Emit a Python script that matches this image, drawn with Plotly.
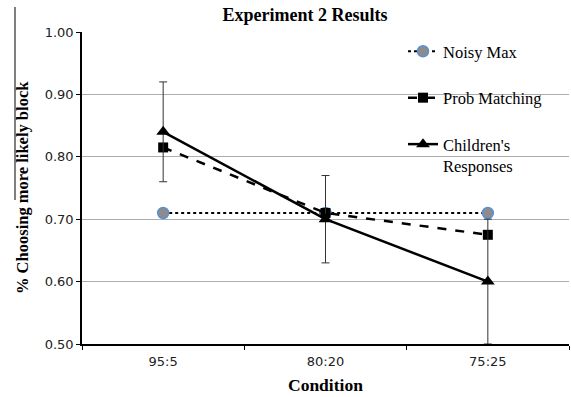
import plotly.graph_objects as go

conditions = ["95:5", "80:20", "75:25"]
noisy_max = [0.71, 0.71, 0.71]
prob_matching = [0.815, 0.71, 0.675]
children = [0.84, 0.70, 0.60]
children_err = [0.08, 0.07, 0.10]
y_ticks = [0.5, 0.6, 0.7, 0.8, 0.9, 1.0]

serif = "Liberation Serif"
sans = "DejaVu Sans"

fig = go.Figure()
fig.add_trace(go.Scatter(
    x=conditions, y=noisy_max, name="Noisy Max", mode="lines+markers",
    line=dict(color="black", width=2, dash="dot"),
    marker=dict(symbol="circle", size=11, color="#8c8c8c",
                line=dict(color="#5b8fd6", width=1.5)),
    legendgroup="a"))
fig.add_trace(go.Scatter(
    x=conditions, y=prob_matching, name="Prob Matching", mode="lines+markers",
    line=dict(color="black", width=2.5, dash="dash"),
    marker=dict(symbol="square", size=10, color="black"),
    legendgroup="b"))
fig.add_trace(go.Scatter(
    x=conditions, y=children, name="Children's<br>Responses", mode="lines+markers",
    line=dict(color="black", width=2.5),
    marker=dict(symbol="triangle-up", size=12, color="black"),
    error_y=dict(type="data", array=children_err, visible=True,
                 color="#333333", thickness=1, width=4),
    legendgroup="c"))

L, R, T, B = 82, 2, 32, 53
W, H = 571, 397
pw = W - L - R
ph = H - T - B

# white background behind legend (hides gridlines)
fig.add_shape(type="rect", xref="paper", yref="y",
              x0=(372 - L) / pw, x1=1.0, y0=0.755, y1=0.99,
              fillcolor="white", line=dict(width=0), layer="between")
# left border artifact line
fig.add_shape(type="line", xref="paper", yref="paper",
              x0=(15 - L) / pw, x1=(15 - L) / pw,
              y0=(H - B - 200) / ph, y1=(H - B - 7) / ph,
              line=dict(color="black", width=1))

# axis titles as annotations
fig.add_annotation(text="<b>Condition</b>", xref="paper", yref="paper",
                   x=0.5, y=-(385 - (H - B)) / ph, xanchor="center", yanchor="middle",
                   showarrow=False, font=dict(family=serif, size=17.5, color="black"))
fig.add_annotation(text="<b>% Choosing more likely block</b>", xref="paper", yref="paper",
                   x=-(L - 22) / pw, y=0.5, xanchor="center", yanchor="middle", textangle=-90,
                   showarrow=False, font=dict(family=serif, size=16.5, color="black"))

fig.update_layout(
    width=W, height=H,
    margin=dict(l=L, r=R, t=T, b=B, autoexpand=False),
    paper_bgcolor="white", plot_bgcolor="white",
    title=dict(text="<b>Experiment 2 Results</b>", xref="container", yref="container",
               x=305 / W, xanchor="center", y=1 - 15 / H, yanchor="middle",
               font=dict(family=serif, size=18, color="black")),
    showlegend=True,
    legend=dict(x=(403 - L) / pw, xanchor="left", y=(H - B - 34) / ph, yanchor="top",
                bgcolor="rgba(0,0,0,0)", font=dict(family=serif, size=16.5, color="black"),
                tracegroupgap=22, valign="top", itemwidth=30),
    xaxis=dict(
        type="category", tickson="boundaries", ticks="outside", ticklen=4,
        tickcolor="black", showline=True, linecolor="black", linewidth=1.5,
        showgrid=False, tickfont=dict(family=sans, size=13, color="#222"),
        ticklabelstandoff=5, automargin=False, range=[-0.5, 2.5]),
    yaxis=dict(
        range=[0.5, 1.0], tickvals=y_ticks, tickformat=".2f",
        ticks="outside", ticklen=4, tickcolor="black",
        showline=True, linecolor="black", linewidth=1.5,
        showgrid=True, gridcolor="#adadad", gridwidth=1, zeroline=False,
        tickfont=dict(family=sans, size=13, color="#222"), automargin=False),
)

fig.write_html("out.html", config={"displayModeBar": False},
               post_script="document.body.style.margin='0px';")
